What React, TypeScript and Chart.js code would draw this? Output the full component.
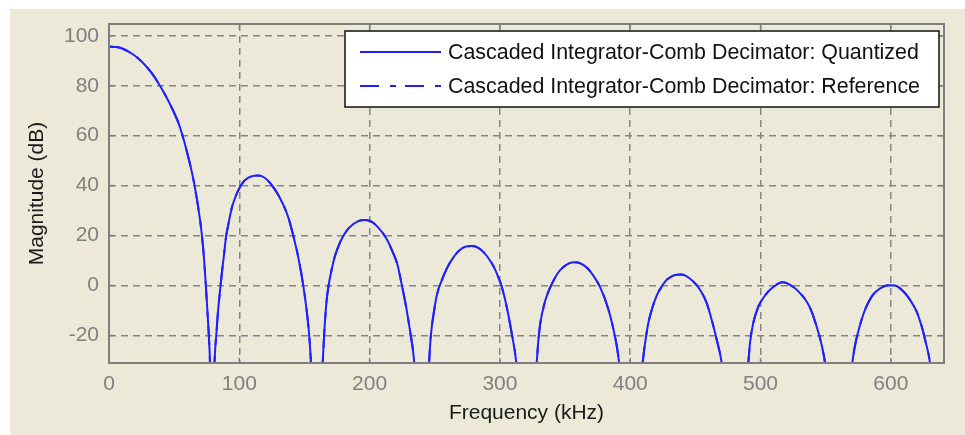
import React, { useEffect, useRef } from "react";
import { Chart, registerables } from "chart.js";

Chart.register(...registerables);

// ---- data ----
const freqKHz = [
  0, 7, 12.3, 17.4, 22.5, 27.6, 32.7, 39.1, 44.3, 49.4, 53.2, 56.3, 59.6, 62.9, 65.5, 68.6, 71.2, 72.9, 74.2, 75.5, 76.7, 77.5, 79,
  81, 82.3, 83.4, 85.2, 86.5, 88.3, 89.8, 91.6, 94.2, 96.7, 99.3, 103.1, 107, 111, 114, 117.2, 121, 127.4, 133.8, 137.6, 141.4, 145.3, 149.1, 151.7, 153.5, 155, 159.5,
  164, 165.3, 166.8, 168.5, 170.9, 173.4, 177.3, 181.1, 185, 191.3, 196, 200.3, 206.7, 213.1, 217, 221.3, 224.6, 228, 231, 234.3, 240,
  245.6, 247, 249.5, 252, 255.3, 259.2, 264.3, 269.4, 274, 278, 282, 287.3, 293.7, 297.5, 301.4, 305.2, 309, 312.6, 320,
  328.2, 329.5, 331, 334.6, 337.1, 340, 343.5, 346.2, 351.3, 355, 358, 361, 366.6, 371.7, 376.8, 382, 385.8, 389.6, 391.5, 400,
  409.5, 411.4, 413.9, 416.5, 420.3, 424.2, 428, 433.1, 435.7, 439, 442, 448.4, 453.6, 458.7, 462.5, 466.4, 470.2, 480,
  490.6, 491.9, 494.4, 498.3, 502.1, 506, 509.8, 513.6, 517, 520, 525.2, 530.3, 535.4, 539.3, 543.1, 547, 549.5, 560,
  570.4, 572.5, 575, 578.9, 582.7, 586.5, 591.6, 596.8, 600, 603.2, 609.5, 614.7, 619.8, 623.7, 626.2, 630.1, 640,
];
const magnitudeDb = [
  95.6, 95.4, 94.4, 92.9, 90.9, 88.3, 85.1, 80, 75.2, 69.8, 65.2, 60.3, 54, 47, 40.5, 30.8, 20.6, 11, 1, -10, -21, -31, -80,
  -31, -20, -12, -2, 4.5, 12.5, 19.5, 24.5, 31, 35, 38.2, 41.5, 43.2, 43.9, 44.1, 43.8, 42.5, 38.4, 32.3, 27.3, 20, 11.2, 0, -10, -19, -31, -80,
  -31, -18, -7, 0, 6.5, 11.8, 17.3, 21, 23.5, 25.8, 26.2, 25.9, 23.2, 18.6, 14.3, 8.5, 0.5, -8.5, -18, -31, -80,
  -31, -20, -10, -3, 2, 6.8, 11.3, 14.3, 15.6, 15.8, 15.5, 13.5, 9, 5, -0.5, -8.5, -19, -31, -80,
  -31, -22, -15, -6.4, -2.5, 0.8, 4.2, 6.2, 8.4, 9.2, 9.3, 9.1, 7.2, 4, -0.5, -7.5, -14.5, -24, -31, -80,
  -31, -23, -15, -9.7, -4, -0.4, 2.3, 4, 4.3, 4.4, 4.1, 1.6, -1.7, -7, -13.7, -21.7, -31, -80,
  -31, -23, -15, -8.4, -5, -2.3, -0.6, 0.8, 1.3, 1, -0.6, -3, -6.4, -10.5, -16.5, -24, -31, -80,
  -31, -24, -18.4, -11.5, -6.8, -3.5, -1.2, 0, 0.1, 0, -2.3, -5.7, -10.4, -16.4, -21.5, -31, -80,
];
const seriesLabels = [
  "Cascaded Integrator-Comb Decimator: Quantized",
  "Cascaded Integrator-Comb Decimator: Reference",
];
const xTitle = "Frequency (kHz)";
const yTitle = "Magnitude (dB)";
const xRange = [0, 640.8];
const yRange = [-31, 104.7];
const xStep = 100;
const yStep = 20;

const FONT = "'Liberation Sans', Arial, sans-serif";
const LINE_COLOR = "#2020ff";
const GRID_COLOR = "#858585";

const framePlugin = {
  id: "frameAndLegend",
  afterDatasetsDraw(chart: any) {
    const { ctx, chartArea: a, scales } = chart;
    const line = (x1: number, y1: number, x2: number, y2: number) => {
      ctx.beginPath();
      ctx.moveTo(x1, y1);
      ctx.lineTo(x2, y2);
      ctx.stroke();
    };
    ctx.save();
    ctx.setLineDash([]);
    ctx.strokeStyle = "#7f7f7f";
    ctx.lineWidth = 2;
    ctx.strokeRect(a.left, a.top, a.right - a.left, a.bottom - a.top);
    ctx.lineWidth = 1.5;
    scales.x.ticks.forEach((t: any) => {
      const px = scales.x.getPixelForValue(t.value);
      line(px, a.bottom, px, a.bottom - 5);
      line(px, a.top, px, a.top + 5);
    });
    scales.y.ticks.forEach((t: any) => {
      const py = scales.y.getPixelForValue(t.value);
      line(a.left, py, a.left + 5, py);
      line(a.right, py, a.right - 5, py);
    });

    // legend
    ctx.font = `21.4px ${FONT}`;
    const maxW = Math.max(...seriesLabels.map((s) => ctx.measureText(s).width));
    const boxRight = a.right - 5;
    const boxTop = a.top + 7;
    const boxW = 103 + maxW + 19;
    const boxH = 76;
    const boxLeft = boxRight - boxW;
    ctx.fillStyle = "#ffffff";
    ctx.fillRect(boxLeft, boxTop, boxW, boxH);
    ctx.strokeStyle = "#111111";
    ctx.lineWidth = 1.5;
    ctx.strokeRect(boxLeft, boxTop, boxW, boxH);
    const rows = [boxTop + 21, boxTop + 55];
    const dashes = [[], [19, 11, 6, 9]];
    seriesLabels.forEach((label, i) => {
      ctx.strokeStyle = LINE_COLOR;
      ctx.lineWidth = 2;
      ctx.setLineDash(dashes[i]);
      line(boxLeft + 15, rows[i], boxLeft + 96, rows[i]);
      ctx.setLineDash([]);
      ctx.fillStyle = "#111111";
      ctx.textBaseline = "middle";
      ctx.textAlign = "left";
      ctx.fillText(label, boxLeft + 103, rows[i] + 1);
    });
    ctx.restore();
  },
};

export default function App() {
  const ref = useRef<HTMLCanvasElement | null>(null);
  useEffect(() => {
    if (!ref.current) return;
    const pts = freqKHz.map((f, i) => ({ x: f, y: magnitudeDb[i] }));
    const chart = new Chart(ref.current, {
      type: "line",
      data: {
        datasets: [
          {
            label: seriesLabels[0],
            data: pts,
            borderColor: LINE_COLOR,
            borderWidth: 2,
            pointRadius: 0,
            cubicInterpolationMode: "monotone",
            fill: false,
          },
          {
            label: seriesLabels[1],
            data: pts,
            borderColor: LINE_COLOR,
            borderWidth: 2,
            borderDash: [19, 11, 6, 9],
            pointRadius: 0,
            cubicInterpolationMode: "monotone",
            fill: false,
          },
        ],
      },
      options: {
        animation: false,
        responsive: false,
        events: [],
        layout: { padding: { left: 0, right: 21, top: 15, bottom: 0 } },
        plugins: { legend: { display: false }, tooltip: { enabled: false }, title: { display: false } },
        scales: {
          x: {
            type: "linear",
            min: xRange[0],
            max: xRange[1],
            afterFit: (s: any) => {
              s.height = 72;
              s.paddingLeft = 0;
              s.paddingRight = 0;
            },
            ticks: {
              stepSize: xStep,
              includeBounds: false,
              color: "#808080",
              font: { family: FONT, size: 21 },
              padding: 9,
              maxRotation: 0,
            },
            grid: { color: GRID_COLOR, lineWidth: 1.5, drawTicks: false },
            border: { display: false, dash: [7, 5] },
            title: {
              display: true,
              text: xTitle,
              color: "#1a1a1a",
              font: { family: FONT, size: 21 },
              padding: { top: 0, bottom: 9 },
            },
          },
          y: {
            type: "linear",
            min: yRange[0],
            max: yRange[1],
            afterFit: (s: any) => {
              s.width = 99;
              s.paddingTop = 0;
              s.paddingBottom = 0;
            },
            ticks: {
              stepSize: yStep,
              includeBounds: false,
              color: "#808080",
              font: { family: FONT, size: 21 },
              padding: 10,
            },
            grid: { color: GRID_COLOR, lineWidth: 1.5, drawTicks: false },
            border: { display: false, dash: [7, 5] },
            title: {
              display: true,
              text: yTitle,
              color: "#1a1a1a",
              font: { family: FONT, size: 21 },
              padding: { top: 15, bottom: 0 },
            },
          },
        },
      },
      plugins: [framePlugin],
    } as any);
    return () => chart.destroy();
  }, []);
  return (
    <div
      style={{
        position: "absolute",
        left: 10,
        top: 9,
        width: 955,
        height: 426,
        background: "#ECE9D8",
      }}
    >
      <canvas ref={ref} width={955} height={426} style={{ display: "block" }} />
    </div>
  );
}
